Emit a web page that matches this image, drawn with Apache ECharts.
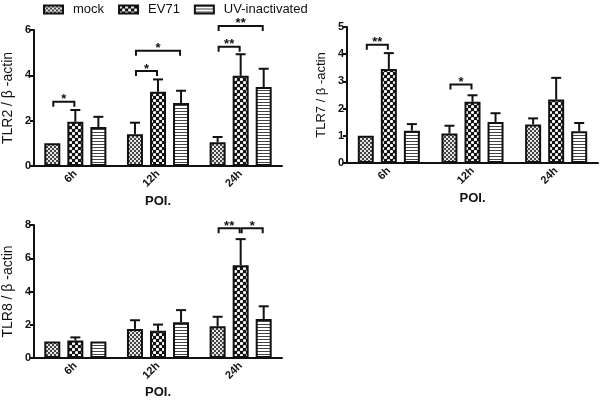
<!DOCTYPE html>
<html><head><meta charset="utf-8">
<script src="https://cdn.jsdelivr.net/npm/echarts@6/dist/echarts.min.js"></script>
<style>html,body{margin:0;padding:0;background:#fff}#c{width:600px;height:400px}</style>
</head><body><div id="c"></div>
<script>
// ---- data ----
var categories = ['6h', '12h', '24h'];
var seriesNames = ['mock', 'EV71', 'UV-inactivated'];
var xAxisName = 'POI.';
var yNames = ['TLR2 / β -actin', 'TLR7 / β -actin', 'TLR8 / β -actin'];
var yMax = [6, 5, 8];
var yStep = [2, 1, 2];

var tlr2Mock = [1.00, 1.40, 1.05], tlr2MockSd = [0, 0.51, 0.23];
var tlr2Ev71 = [1.95, 3.28, 3.98], tlr2Ev71Sd = [0.52, 0.54, 0.95];
var tlr2Uv   = [1.72, 2.78, 3.48], tlr2UvSd   = [0.45, 0.54, 0.81];
var tlr2Sig = [[0, 0, 1, 2.84], [1, 0, 1, 4.19], [1, 0, 2, 5.09], [2, 0, 1, 5.26], [2, 0, 2, 6.18]];
var tlr2SigLabels = ['*', '*', '*', '**', '**'];

var tlr7Mock = [1.00, 1.08, 1.42], tlr7MockSd = [0, 0.29, 0.22];
var tlr7Ev71 = [3.46, 2.25, 2.33], tlr7Ev71Sd = [0.58, 0.24, 0.80];
var tlr7Uv   = [1.19, 1.51, 1.17], tlr7UvSd   = [0.24, 0.32, 0.30];
var tlr7Sig = [[0, 0, 1, 4.35], [1, 0, 1, 2.89]];
var tlr7SigLabels = ['**', '*'];

var tlr8Mock = [1.00, 1.75, 1.91], tlr8MockSd = [0, 0.52, 0.57];
var tlr8Ev71 = [1.06, 1.64, 5.58], tlr8Ev71Sd = [0.18, 0.37, 1.57];
var tlr8Uv   = [1.00, 2.15, 2.34], tlr8UvSd   = [0, 0.73, 0.77];
var tlr8Sig = [[2, 0, 1, 7.8], [2, 1, 2, 7.8]];
var tlr8SigLabels = ['**', '*'];

// ---- patterns ----
function mk(w, h, draw) { var c = document.createElement('canvas'); c.width = w; c.height = h; var g = c.getContext('2d'); draw(g); return c; }
var patMock = mk(4, 4, function (g) { g.fillStyle = '#e6e6e6'; g.fillRect(0, 0, 4, 4); g.fillStyle = '#444'; g.fillRect(0, 0, 2, 2); g.fillRect(2, 2, 2, 2); });
var patEv = mk(6, 6, function (g) { g.fillStyle = '#111'; g.fillRect(0, 0, 6, 6); g.fillStyle = '#fff';
  g.beginPath(); g.arc(1.5, 1.5, 1.6, 0, Math.PI * 2); g.fill(); g.beginPath(); g.arc(4.5, 4.5, 1.6, 0, Math.PI * 2); g.fill(); });
var patUv = mk(4, 3, function (g) { g.fillStyle = '#fff'; g.fillRect(0, 0, 4, 3); g.fillStyle = '#444'; g.fillRect(0, 0, 4, 1); });
var pats = [patMock, patEv, patUv];

var FONT = '"Liberation Sans", Arial, sans-serif';
var BAR_W = 16, BAR_GAP = 0.44, STEP = BAR_W * (1 + BAR_GAP);

var panels = [
  { vals: [tlr2Mock, tlr2Ev71, tlr2Uv], sds: [tlr2MockSd, tlr2Ev71Sd, tlr2UvSd], sig: tlr2Sig, sigL: tlr2SigLabels,
    grid: { left: 31, top: 30, width: 251, height: 136 }, nameSize: 14, xGap: 29 },
  { vals: [tlr7Mock, tlr7Ev71, tlr7Uv], sds: [tlr7MockSd, tlr7Ev71Sd, tlr7UvSd], sig: tlr7Sig, sigL: tlr7SigLabels,
    grid: { left: 347, top: 27, width: 251, height: 136 }, nameSize: 13, xGap: 29 },
  { vals: [tlr8Mock, tlr8Ev71, tlr8Uv], sds: [tlr8MockSd, tlr8Ev71Sd, tlr8UvSd], sig: tlr8Sig, sigL: tlr8SigLabels,
    grid: { left: 31, top: 225, width: 251, height: 135.5 }, nameSize: 14, xGap: 28 }
];

var grids = [], xAxes = [], yAxes = [], series = [];
panels.forEach(function (p, i) {
  grids.push(p.grid);
  xAxes.push({ type: 'category', gridIndex: i, data: categories, name: xAxisName, nameLocation: 'middle', nameGap: p.xGap,
    nameTextStyle: { fontFamily: FONT, fontSize: 13, fontWeight: 'bold', color: '#111' },
    axisLine: { lineStyle: { color: '#111', width: 2 } },
    axisTick: { alignWithLabel: true, length: 4, lineStyle: { color: '#111', width: 2 } },
    axisLabel: { rotate: 45, margin: 6, fontFamily: FONT, fontSize: 11, fontWeight: 'bold', color: '#111' } });
  yAxes.push({ type: 'value', gridIndex: i, min: 0, max: yMax[i], interval: yStep[i], name: yNames[i], nameLocation: 'middle', nameGap: 19,
    nameTextStyle: { fontFamily: FONT, fontSize: p.nameSize, color: '#111' },
    axisLine: { show: true, lineStyle: { color: '#111', width: 2 } },
    axisTick: { show: true, length: 4, lineStyle: { color: '#111', width: 2 } },
    splitLine: { show: false },
    axisLabel: { margin: 3, fontFamily: FONT, fontSize: 11, fontWeight: 'bold', color: '#111' } });
  p.vals.forEach(function (v, s) {
    series.push({ type: 'bar', name: seriesNames[s], xAxisIndex: i, yAxisIndex: i, data: v, barWidth: BAR_W, barGap: (BAR_GAP * 100) + '%',
      itemStyle: { color: { image: pats[s], repeat: 'repeat' }, borderColor: '#111', borderWidth: 2 }, z: 2 });
  });
  var err = [];
  p.vals.forEach(function (v, s) { v.forEach(function (m, c) { if (p.sds[s][c] > 0) err.push([c, s, m, m + p.sds[s][c]]); }); });
  series.push({ type: 'custom', xAxisIndex: i, yAxisIndex: i, data: err, encode: { x: 0, y: 3 }, z: 5, silent: true,
    renderItem: function (params, api) {
      var c = api.value(0), s = api.value(1);
      var base = api.coord([c, api.value(2)]), top = api.coord([c, api.value(3)]);
      var x = base[0] + (s - 1) * STEP;
      return { type: 'group', children: [
        { type: 'line', shape: { x1: x, y1: base[1], x2: x, y2: top[1] }, style: { stroke: '#111', lineWidth: 2 } },
        { type: 'line', shape: { x1: x - 5, y1: top[1], x2: x + 5, y2: top[1] }, style: { stroke: '#111', lineWidth: 2 } } ] };
    } });
  var labels = p.sigL;
  series.push({ type: 'custom', xAxisIndex: i, yAxisIndex: i, data: p.sig, encode: { x: 0, y: 3 }, z: 6, silent: true,
    renderItem: function (params, api) {
      var c = api.value(0), a = api.value(1), b = api.value(2);
      var pt = api.coord([c, api.value(3)]);
      var x1 = pt[0] + (a - 1) * STEP + 1, x2 = pt[0] + (b - 1) * STEP - 1, y = pt[1];
      return { type: 'group', children: [
        { type: 'polyline', shape: { points: [[x1, y + 5], [x1, y], [x2, y], [x2, y + 5]] }, style: { stroke: '#111', lineWidth: 2, fill: null } },
        { type: 'text', x: (x1 + x2) / 2, y: y - 2, style: { text: labels[params.dataIndex], fill: '#111', font: 'bold 13px ' + FONT, align: 'center', verticalAlign: 'middle' } } ] };
    } });
});

var chart = echarts.init(document.getElementById('c'), null, { renderer: 'canvas' });
chart.setOption({
  animation: false,
  backgroundColor: '#fff',
  legend: { data: seriesNames, left: 43, top: 3, padding: 0, icon: 'rect', itemWidth: 19, itemHeight: 8, itemGap: 14,
    textStyle: { fontFamily: FONT, fontSize: 13, color: '#111', padding: [0, 0, 0, 5] } },
  grid: grids, xAxis: xAxes, yAxis: yAxes, series: series
});
</script></body></html>
